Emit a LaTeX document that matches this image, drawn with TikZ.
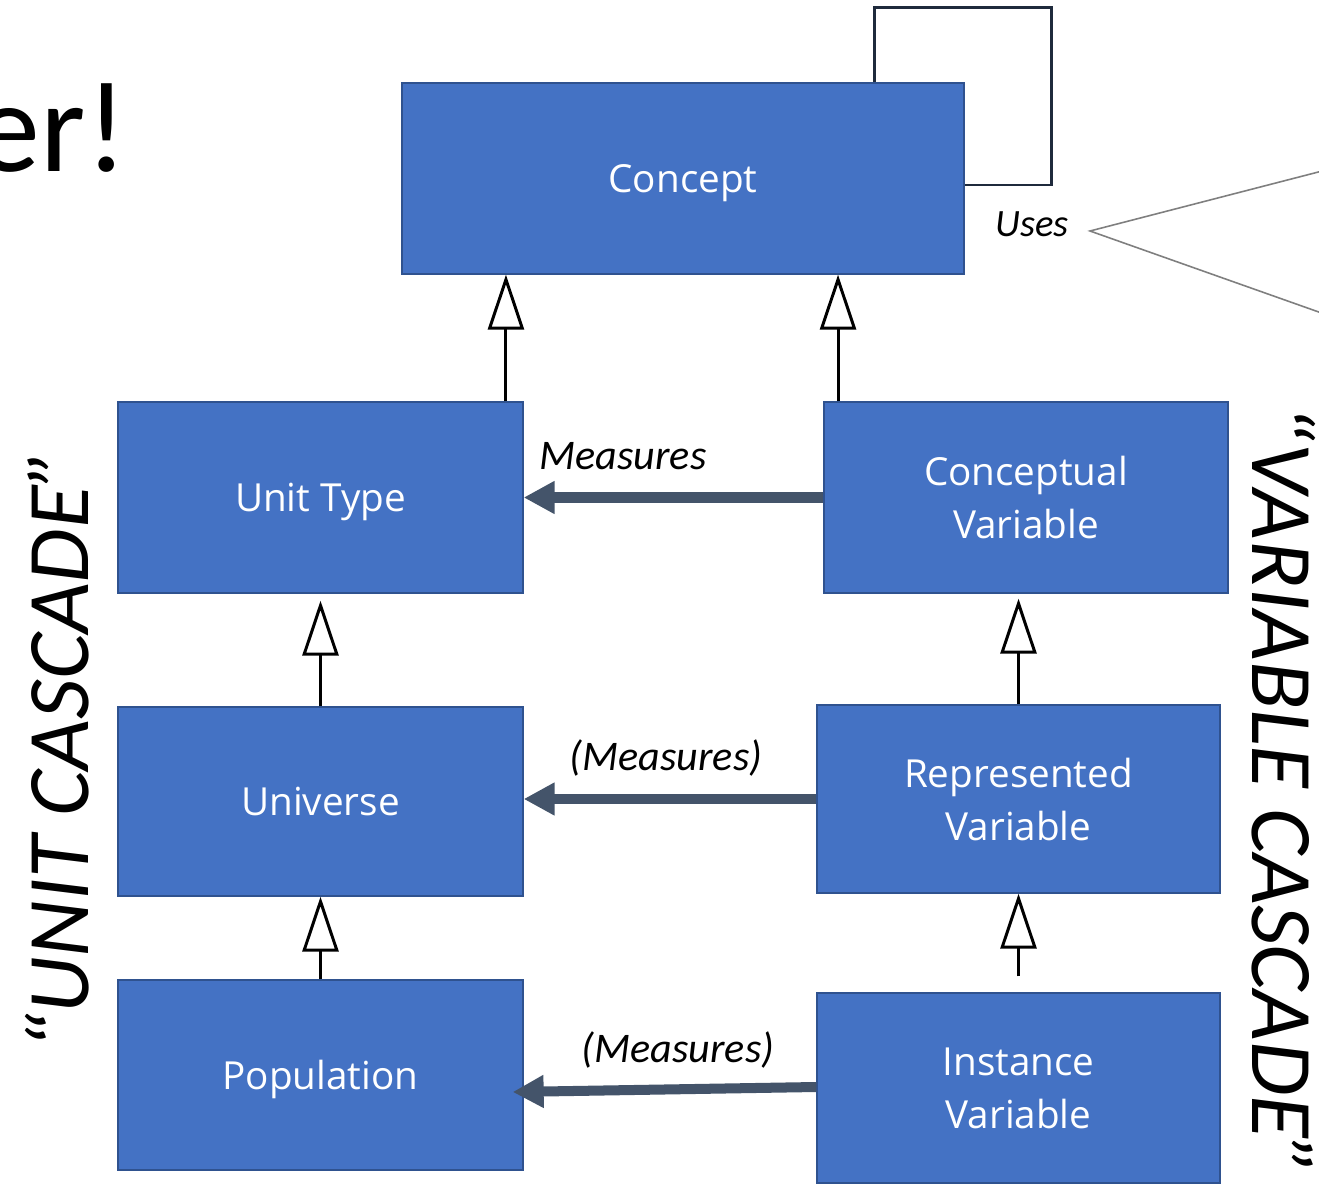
\documentclass[tikz,border=0pt]{standalone}
\usepackage{fontspec}
\setmainfont{Carlito}
\newfontfamily\boxfont{Open Sans}
\usetikzlibrary{arrows.meta,calc}
\definecolor{boxblue}{HTML}{4472C4}
\definecolor{boxedge}{HTML}{2F528F}
\definecolor{measure}{HTML}{44546A}
\definecolor{loopc}{HTML}{1F2A3C}
\definecolor{calloutc}{HTML}{7F7F7F}
\begin{document}
\begin{tikzpicture}[x=0.02cm,y=-0.02cm,
  cls/.style={draw=boxedge, line width=0.8pt, fill=boxblue, text=white,
    font=\boxfont\fontsize{22}{30}\selectfont, align=center, inner sep=0pt,
    text depth=0pt},
  gen/.style={draw=black, line width=1.7pt,
    -{Triangle[fill=white, length=1.1cm, width=0.72cm]}},
  meas/.style={draw=measure, line width=5.7pt,
    -{Triangle[length=0.62cm, width=0.62cm]}},
  selfloop/.style={draw=loopc, line width=1.7pt},
  callout/.style={draw=calloutc, line width=0.9pt},
  lbl/.style={font=\itshape\fontsize{24}{28}\selectfont, inner sep=0pt},
  casc/.style={font=\itshape\fontsize{50}{54}\selectfont, inner sep=0pt},
]
\useasboundingbox (0,0) rectangle (1319,1185);

% title fragment
\node[font=\fontsize{74}{76}\selectfont, anchor=base east, inner sep=0pt] (er) at (128,172) {er!};

% classes
\node[cls, minimum width=11.24cm, minimum height=3.82cm] (concept) at (683,178.5) {Concept};
\node[cls, minimum width=8.1cm, minimum height=3.82cm] (ut) at (320.5,497.5) {Unit Type};
\node[cls, minimum width=8.08cm, minimum height=3.82cm] (cv) at (1026,497.5) {Conceptual\\Variable};
\node[cls, minimum width=8.1cm, minimum height=3.78cm] (uv) at (320.5,801.5) {Universe};
\node[cls, minimum width=8.06cm, minimum height=3.76cm] (rv) at (1018.5,799) {Represented\\Variable};
\node[cls, minimum width=8.1cm, minimum height=3.8cm] (pop) at (320.5,1075) {Population};
\node[cls, minimum width=8.06cm, minimum height=3.8cm] (iv) at (1018.5,1088) {Instance\\Variable};

% self loop on Concept
\draw[selfloop] ([xshift=3.84cm]concept.north) |- ++(177,-75) |- ([yshift=-0.13cm]concept.east);

% Uses callout
\node[lbl, font=\itshape\fontsize{22}{26}\selectfont] (uses) at (1032,224) {Uses};
\coordinate (usetip) at (1090,231);
\coordinate (useA) at (1330,169);
\coordinate (useB) at (1330,316);
\draw[callout] (useA) -- (usetip) -- (useB);

% generalizations
\coordinate (g1) at ([xshift=3.71cm]ut.north);
\draw[gen] (g1) -- (g1 |- concept.south);
\coordinate (g2) at ([xshift=-3.76cm]cv.north);
\draw[gen] (g2) -- (g2 |- concept.south);
\draw[gen] (uv.north) -- ([yshift=-0.14cm]ut.south);
\draw[gen] (pop.north) -- (uv.south);
\coordinate (g3) at (rv.north |- cv.south);
\draw[gen] (rv.north) -- ([yshift=-0.1cm]g3);
\draw[gen, shorten <=0.32cm] (iv.north) -- (iv.north |- rv.south);

% measures associations
\draw[meas] (cv.west) -- (ut.east);
\draw[meas] (rv.west) -- (rv.west -| uv.east);
\coordinate (m3) at ([xshift=-0.22cm,yshift=-0.34cm]pop.east);
\draw[meas] ([yshift=0.02cm]iv.west) -- (m3);

\node[lbl] (lm1) at (623,456) {Measures};
\node[lbl] (lm2) at (666,758) {(Measures)};
\node[lbl] (lm3) at (678,1050) {(Measures)};

% cascade labels
\node[casc, rotate=90] (uc) at (57,750) {“UNIT CASCADE”};
\node[casc, rotate=-90] (vc) at (1284,790) {“VARIABLE CASCADE”};
\end{tikzpicture}
\end{document}
